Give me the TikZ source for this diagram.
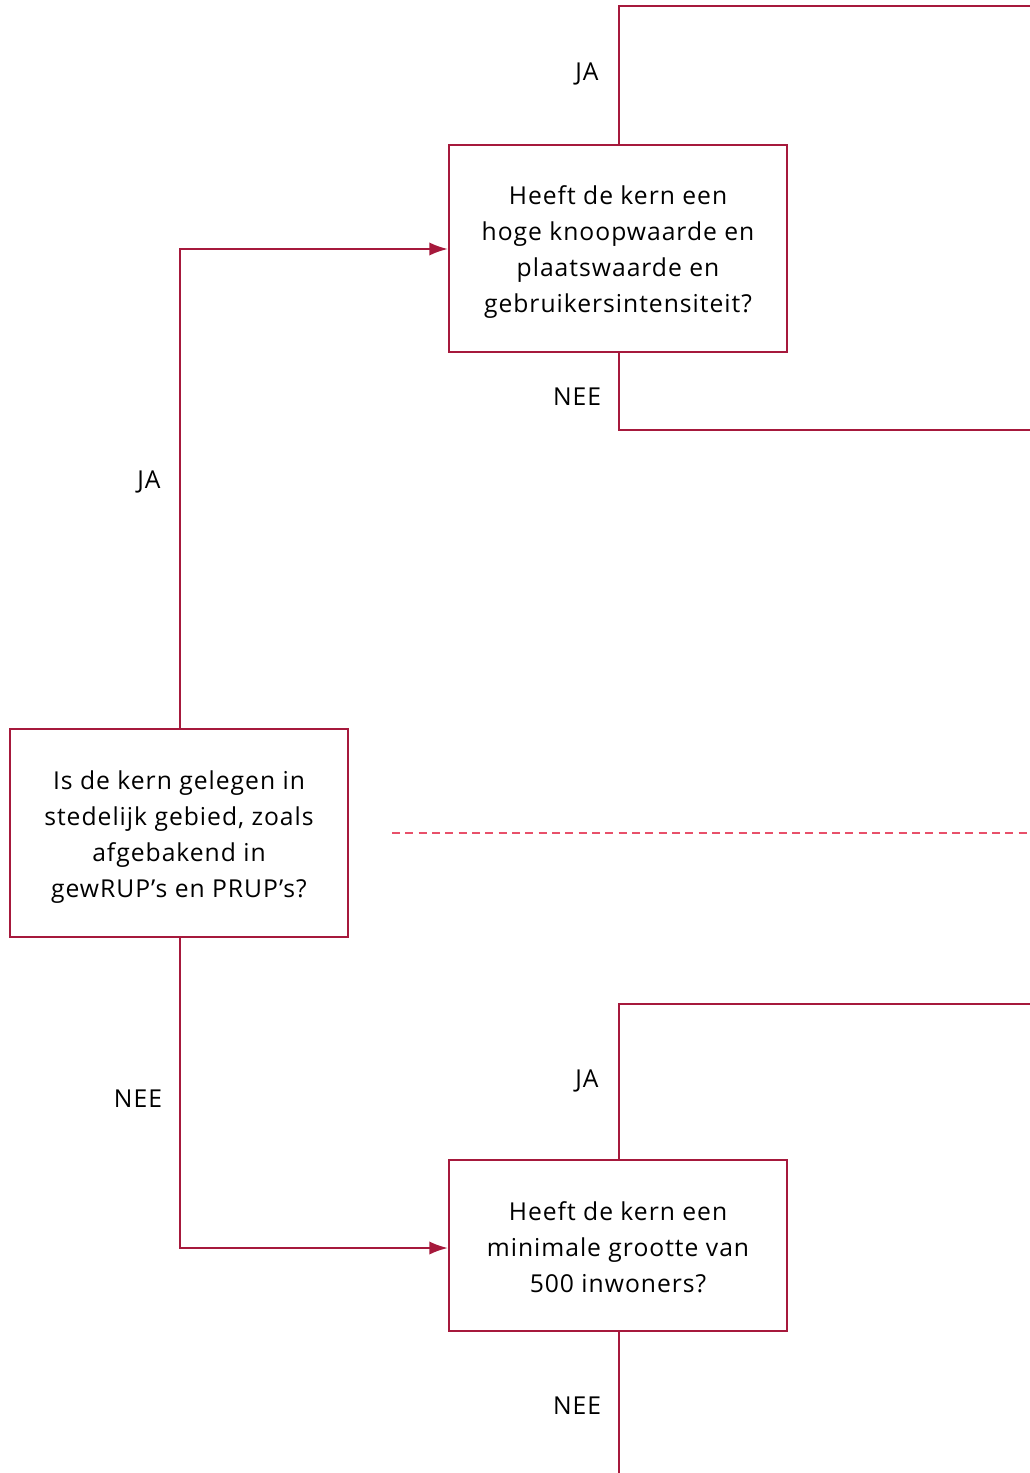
\documentclass[tikz,border=0pt]{standalone}
\usepackage{fontspec}
\setmainfont[LetterSpace=4]{Open Sans}
\usetikzlibrary{arrows.meta}
\definecolor{dred}{HTML}{A6193C}
\definecolor{pink}{HTML}{E8506A}
\begin{document}
\begin{tikzpicture}[x=0.75pt,y=-0.75pt,
  qbox/.style={draw=dred,line width=1.6pt,rectangle,minimum width=338*0.75pt,inner sep=0pt},
  qtext/.style={align=center,inner sep=0pt,font=\fontsize{18.5pt}{27pt}\selectfont},
  conn/.style={draw=dred,line width=1.6pt},
  arr/.style={conn,-{Latex[length=14pt,width=10pt]}},
  lbl/.style={font=\fontsize{18.5pt}{27pt}\selectfont,inner sep=0pt}]
\useasboundingbox (0,0) rectangle (1030,1473);
\node[qbox,minimum height=207*0.75pt] (top) at (618,248.5) {};
\node[qtext] (toptext) at (618,252) {Heeft de kern een\\hoge knoopwaarde en\\plaatswaarde en\\gebruikersintensiteit?};
\node[qbox,minimum height=208*0.75pt] (left) at (179,833) {};
\node[qtext] (lefttext) at (179,837) {Is de kern gelegen in\\stedelijk gebied, zoals\\afgebakend in\\gewRUP’s en PRUP’s?};
\node[qbox,minimum height=171*0.75pt] (bot) at (618,1245.5) {};
\node[qtext] (bottext) at (618,1247) {Heeft de kern een\\minimale grootte van\\500 inwoners?};
\coordinate (t1) at (1031,6);
\coordinate (t2) at (1031,430);
\coordinate (b1) at (1031,1004);
\coordinate (b2) at (619,1474);
\coordinate (d1) at (392,833);
\coordinate (d2) at (1031,833);
\draw[arr] (left.north -| 180,0) |- (top.west |- 0,249);
\draw[arr] (left.south -| 180,0) |- (bot.west |- 0,1248);
\draw[conn] (top.north -| 619,0) |- (t1);
\draw[conn] (top.south -| 619,0) |- (t2);
\draw[conn] (bot.north -| 619,0) |- (b1);
\draw[conn] (bot.south -| 619,0) -- (b2);
\draw[pink,line width=1.8pt,dash pattern=on 6pt off 4pt] (d1) -- (d2);
\node[lbl] (l1) at (587,73.5) {JA};
\node[lbl] (l2) at (577,397) {NEE};
\node[lbl] (l3) at (149,481.5) {JA};
\node[lbl] (l4) at (138,1099) {NEE};
\node[lbl] (l5) at (587,1080.5) {JA};
\node[lbl] (l6) at (577,1406) {NEE};
\end{tikzpicture}
\end{document}
